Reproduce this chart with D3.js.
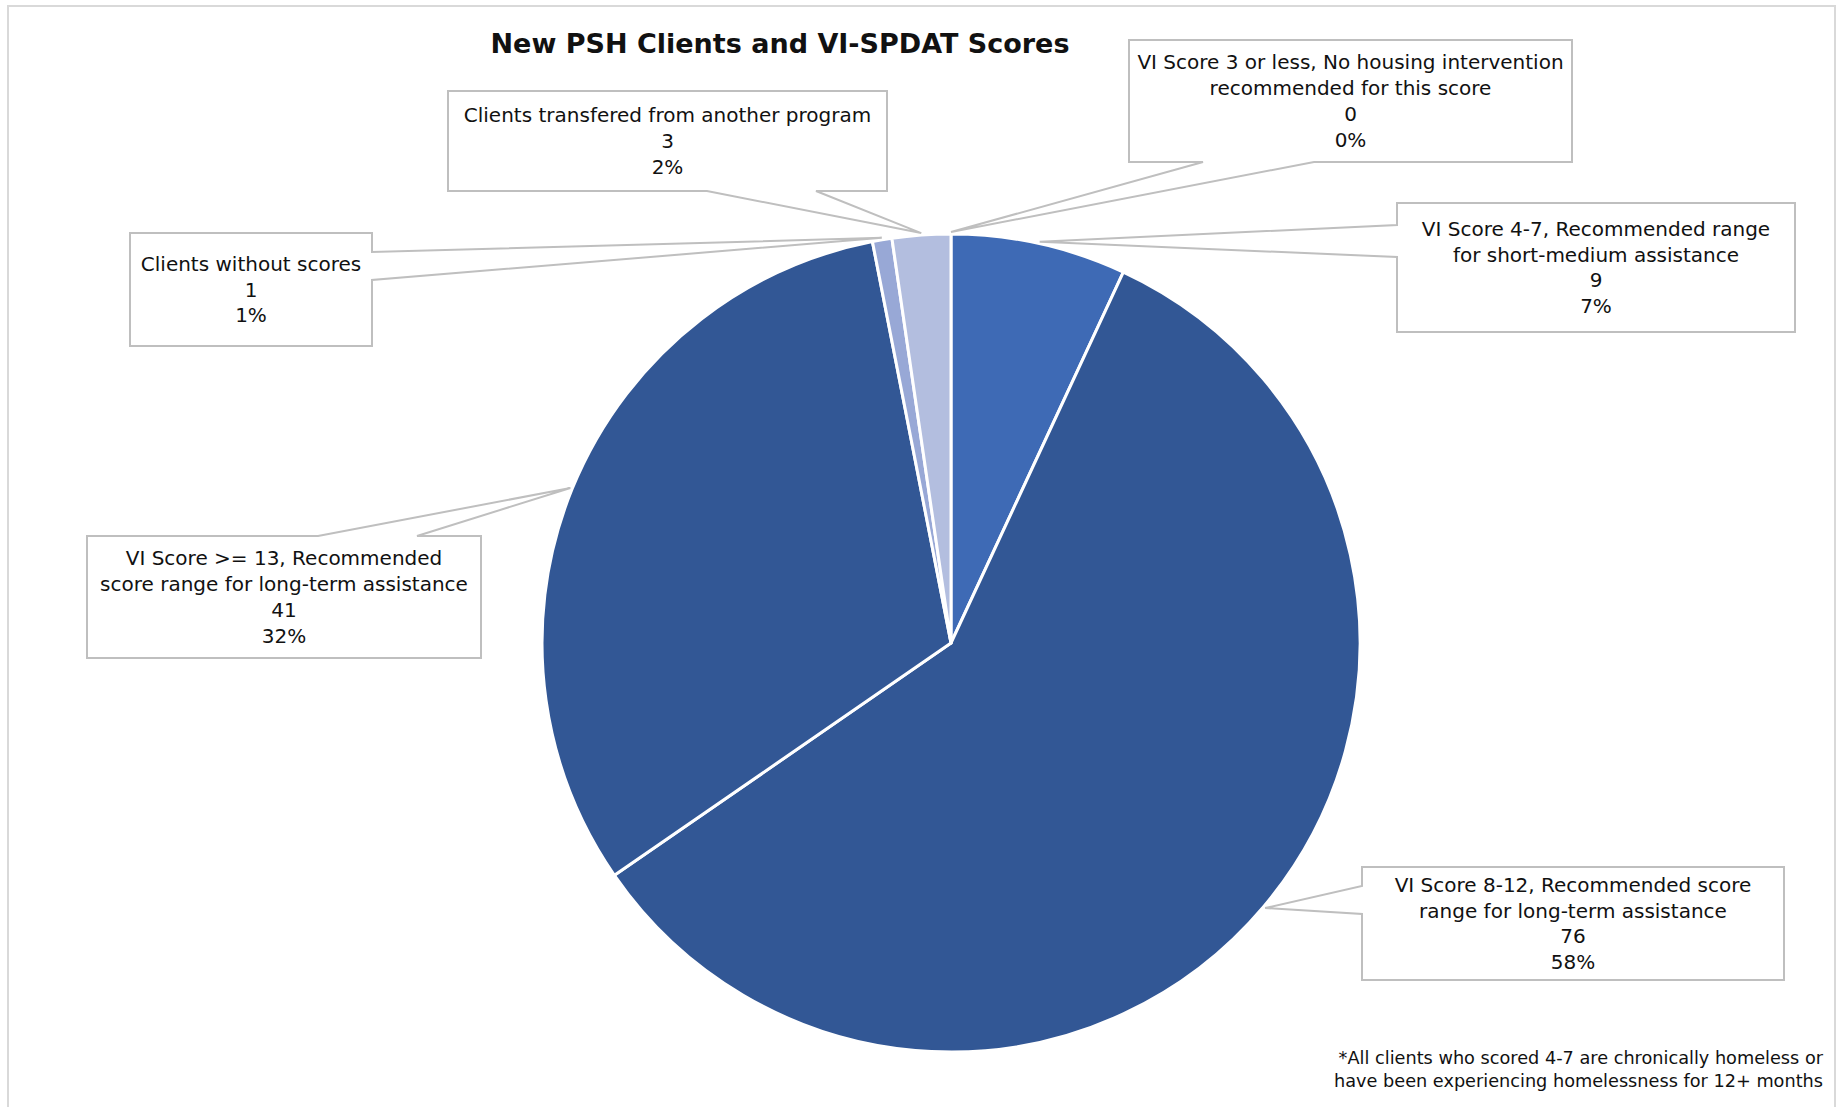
<!DOCTYPE html>
<html>
<head>
  <meta charset="utf-8">
  <script src="https://d3js.org/d3.v7.min.js"></script>
  <style>
    body { margin: 0; background: #fff; }
    text { font-family: "DejaVu Sans", sans-serif; fill: #111; }
  </style>
</head>
<body>
<script>
  // slice data, clockwise from 12 o'clock
  var categories = [
    "VI Score 3 or less, No housing intervention\nrecommended for this score",
    "VI Score 4-7, Recommended range\nfor short-medium assistance",
    "VI Score 8-12, Recommended score\nrange for long-term assistance",
    "VI Score >= 13, Recommended\nscore range for long-term assistance",
    "Clients without scores",
    "Clients transfered from another program"
  ];
  var counts = [0, 9, 76, 41, 1, 3];
  var colors = ["#4472c4", "#3e6ab5", "#325795", "#325795", "#98a8d6", "#b3bedf"];

  var title = "New PSH Clients and VI-SPDAT Scores";
  var footnote = ["*All clients who scored 4-7 are chronically homeless or",
                  "have been experiencing homelessness for 12+ months"];

  // callout boxes: [x0, y0, x1, y1], side the tail leaves from, and the two base points
  var boxes = [
    { b: [1129, 40, 1572, 162], side: "bottom", t: [1203, 1314] },
    { b: [1397, 203, 1795, 332], side: "left", t: [225, 257] },
    { b: [1362, 867, 1784, 980], side: "left", t: [886, 914] },
    { b: [87, 536, 481, 658], side: "top", t: [318, 417] },
    { b: [130, 233, 372, 346], side: "right", t: [252, 280] },
    { b: [448, 91, 887, 191], side: "bottom", t: [707, 816] }
  ];

  var W = 1841, H = 1107;
  var cx = 951, cy = 643, R = 409;
  var lineH = 25.8;

  var svg = d3.select("body").append("svg")
    .attr("width", W).attr("height", H);

  // chart frame
  svg.append("rect")
    .attr("x", 8).attr("y", 6).attr("width", 1827).attr("height", 1110)
    .attr("fill", "none").attr("stroke", "#d9d9d9").attr("stroke-width", 2);

  svg.append("text")
    .attr("x", 780).attr("y", 44).attr("dy", "0.35em")
    .attr("text-anchor", "middle")
    .style("font-size", "27px").style("font-weight", "bold")
    .text(title);

  var total = d3.sum(counts);
  var data = counts.map(function (v, i) { return { i: i, v: v }; });

  var pie = d3.pie().sort(null).value(function (d) { return d.v; });
  var arc = d3.arc().innerRadius(0).outerRadius(R);
  var arcs = pie(data);

  var g = svg.append("g").attr("transform", "translate(" + cx + "," + cy + ")");
  g.selectAll("path")
    .data(arcs)
    .enter().append("path")
    .attr("d", arc)
    .attr("fill", function (d) { return colors[d.data.i]; })
    .attr("stroke", "#fff")
    .attr("stroke-width", 3)
    .attr("stroke-linejoin", "round");

  // callouts
  arcs.forEach(function (a, k) {
    var bx = boxes[k], b = bx.b;
    var mid = (a.startAngle + a.endAngle) / 2;
    var tip = [cx + (R + 2) * Math.sin(mid), cy - (R + 2) * Math.cos(mid)];
    var x0 = b[0], y0 = b[1], x1 = b[2], y1 = b[3];
    var p = d3.path();
    p.moveTo(x0, y0);
    if (bx.side === "top") {
      p.lineTo(bx.t[0], y0); p.lineTo(tip[0], tip[1]); p.lineTo(bx.t[1], y0);
    }
    p.lineTo(x1, y0);
    if (bx.side === "right") {
      p.lineTo(x1, bx.t[0]); p.lineTo(tip[0], tip[1]); p.lineTo(x1, bx.t[1]);
    }
    p.lineTo(x1, y1);
    if (bx.side === "bottom") {
      p.lineTo(bx.t[1], y1); p.lineTo(tip[0], tip[1]); p.lineTo(bx.t[0], y1);
    }
    p.lineTo(x0, y1);
    if (bx.side === "left") {
      p.lineTo(x0, bx.t[1]); p.lineTo(tip[0], tip[1]); p.lineTo(x0, bx.t[0]);
    }
    p.closePath();
    svg.append("path")
      .attr("d", p.toString())
      .attr("fill", "#fff")
      .attr("stroke", "#bfbfbf")
      .attr("stroke-width", 2)
      .attr("stroke-linejoin", "miter");

    var lines = categories[k].split("\n")
      .concat([String(a.data.v), Math.round(a.data.v / total * 100) + "%"]);
    var mx = (x0 + x1) / 2, my = (y0 + y1) / 2;
    svg.append("g").selectAll("text")
      .data(lines)
      .enter().append("text")
      .attr("x", mx)
      .attr("y", function (d, i) { return my + (i - (lines.length - 1) / 2) * lineH; })
      .attr("dy", "0.35em")
      .attr("text-anchor", "middle")
      .style("font-size", "20px")
      .text(function (d) { return d; });
  });

  svg.selectAll("text.note")
    .data(footnote)
    .enter().append("text")
    .attr("class", "note")
    .attr("x", 1823)
    .attr("y", function (d, i) { return 1058 + i * 23; })
    .attr("dy", "0.35em")
    .attr("text-anchor", "end")
    .style("font-size", "17.7px")
    .text(function (d) { return d; });
</script>
</body>
</html>
